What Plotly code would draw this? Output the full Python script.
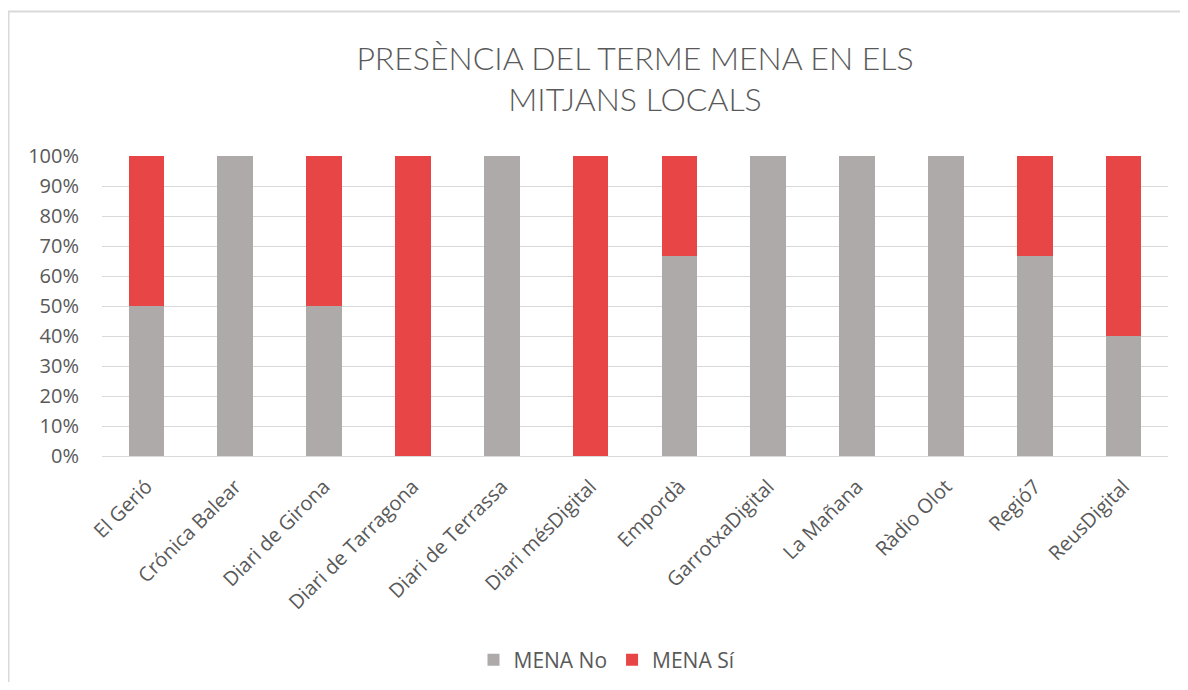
import plotly.graph_objects as go

categories = ["El Gerió", "Crónica Balear", "Diari de Girona", "Diari de Tarragona",
              "Diari de Terrassa", "Diari mésDigital", "Empordà", "GarrotxaDigital",
              "La Mañana", "Ràdio Olot", "Regió7", "ReusDigital"]
mena_no = [50, 100, 50, 0, 100, 0, 66.7, 100, 100, 100, 66.7, 40]
mena_si = [50, 0, 50, 100, 0, 100, 33.3, 0, 0, 0, 33.3, 60]
y_ticks = [0, 10, 20, 30, 40, 50, 60, 70, 80, 90, 100]
y_tick_labels = ["0%", "10%", "20%", "30%", "40%", "50%", "60%", "70%", "80%", "90%", "100%"]

GREY = "#AEAAAA"
RED = "#E84646"
TXT = "#595959"
GRID = "#D9D9D9"

fig = go.Figure()
fig.add_trace(go.Bar(x=categories, y=mena_no, name="MENA No", marker_color=GREY,
                     marker_line_width=0))
fig.add_trace(go.Bar(x=categories, y=mena_si, name="MENA Sí", marker_color=RED,
                     marker_line_width=0))

# page body adds an 8px offset; work in screen pixels and convert
OFF = 8
W, H = 1172, 674
plot_l, plot_r, plot_t, plot_b = 102, 1168, 156, 456  # screen px
ml = plot_l - OFF
mr = W - (plot_r - OFF)
mt = plot_t - OFF
mb = H - (plot_b - OFF)
pw, ph = W - ml - mr, H - mt - mb


def px_x(p):
    return (p - plot_l) / pw


def px_y(p):
    return 1 + (plot_t - p) / ph


def cont_x(p):
    return (p - OFF) / W


def cont_y(p):
    return 1 - (p - OFF) / H


fig.update_layout(
    width=W, height=H,
    autosize=False,
    margin=dict(l=ml, r=mr, t=mt, b=mb, autoexpand=False),
    barmode="stack",
    bargap=0.6,
    paper_bgcolor="white",
    plot_bgcolor="white",
    font=dict(family="Open Sans, sans-serif", color=TXT, size=20),
    title=dict(
        text="PRESÈNCIA DEL TERME MENA EN ELS<br>MITJANS LOCALS",
        x=0.5, xanchor="center", xref="paper",
        y=cont_y(69.5), yanchor="middle",
        font=dict(family="Lato, sans-serif", size=32, color=TXT, weight=300),
    ),
    xaxis=dict(
        tickangle=-45,
        showgrid=False,
        showline=True, linecolor=GRID, linewidth=1,
        ticks="",
        tickfont=dict(size=20, color=TXT),
        ticklabelstandoff=10,
        automargin=False,
    ),
    yaxis=dict(
        range=[0, 100],
        tickmode="array",
        tickvals=y_ticks,
        ticktext=y_tick_labels,
        showgrid=True, gridcolor=GRID, gridwidth=1,
        zeroline=False,
        ticks="",
        tickfont=dict(size=20, color=TXT),
        ticklabelstandoff=22,
        automargin=False,
    ),
    legend=dict(
        orientation="h",
        xref="container", yref="container",
        x=cont_x(607), xanchor="center",
        y=cont_y(660), yanchor="middle",
        font=dict(size=21, color=TXT),
        itemwidth=30,
        traceorder="normal",
    ),
    shapes=[dict(
        type="rect", xref="paper", yref="paper",
        x0=px_x(8.5), x1=px_x(1200),
        y0=px_y(710), y1=px_y(11.5),
        line=dict(color=GRID, width=2),
        fillcolor="rgba(0,0,0,0)",
        layer="below",
    )],
)

fig.write_html("out.html")
